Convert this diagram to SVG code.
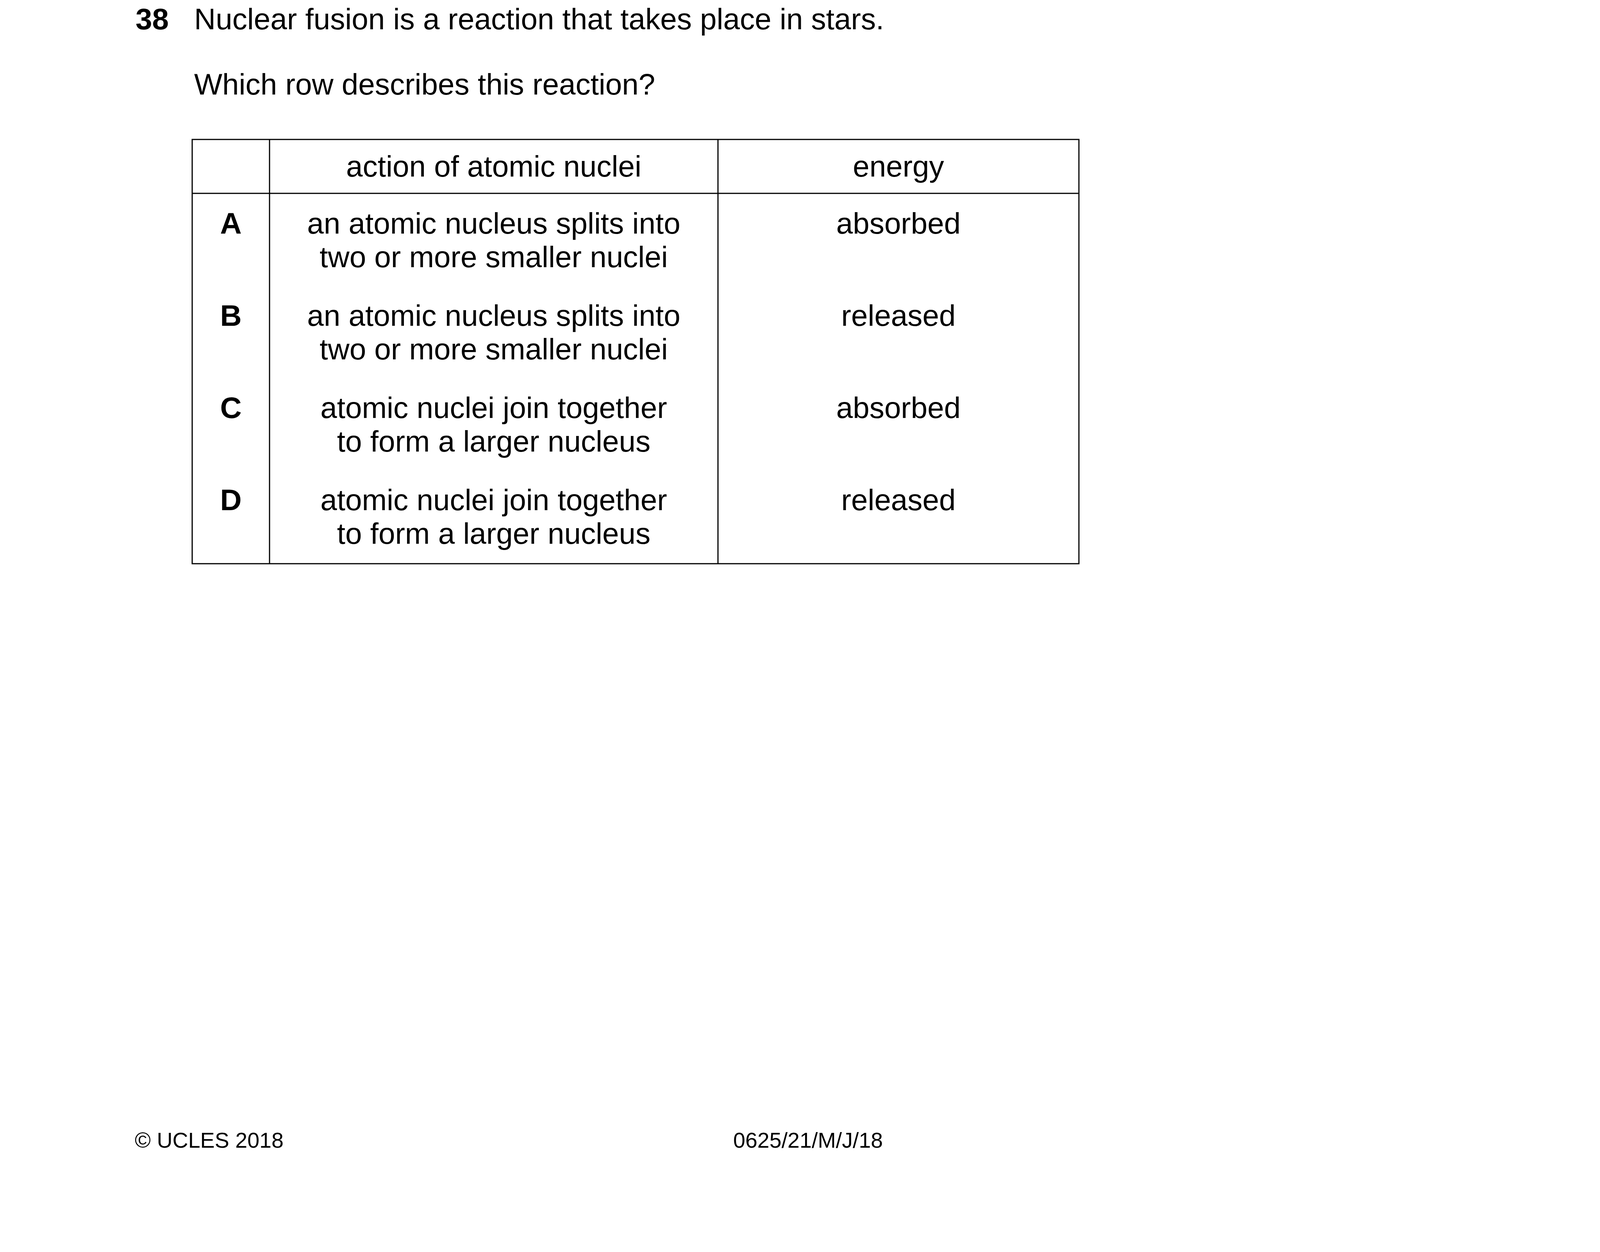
<svg xmlns="http://www.w3.org/2000/svg" width="4132" height="3205" viewBox="0 0 4132 3205">
<style>
text{font-family:"Liberation Sans",Arial,sans-serif;fill:#000}
.t{font-size:76.4px}
.b{font-weight:bold}
.c{text-anchor:middle}
.f{font-size:55.6px}
.ln{stroke:#000;stroke-width:3;fill:none}
</style>
<rect width="4132" height="3205" fill="#fff"/>
<g id="question">
<text class="t b" x="347" y="75">38</text>
<text class="t" x="497" y="75">Nuclear fusion is a reaction that takes place in stars.</text>
<text class="t" x="497" y="242">Which row describes this reaction?</text>
</g>
<g id="table-grid">
<rect class="ln" x="492" y="357" width="2270" height="1086"/>
<line class="ln" x1="492" y1="495" x2="2762" y2="495"/>
<line class="ln" x1="690" y1="357" x2="690" y2="1443"/>
<line class="ln" x1="1838" y1="357" x2="1838" y2="1443"/>
</g>
<g id="header">
<text class="t c" x="1264" y="452">action of atomic nuclei</text>
<text class="t c" x="2300" y="452">energy</text>
</g>
<g id="rowA">
<text class="t b c" x="591" y="598">A</text>
<text class="t c" x="1264" y="598">an atomic nucleus splits into</text>
<text class="t c" x="1264" y="684">two or more smaller nuclei</text>
<text class="t c" x="2300" y="598">absorbed</text>
</g>
<g id="rowB">
<text class="t b c" x="591" y="834">B</text>
<text class="t c" x="1264" y="834">an atomic nucleus splits into</text>
<text class="t c" x="1264" y="920">two or more smaller nuclei</text>
<text class="t c" x="2300" y="834">released</text>
</g>
<g id="rowC">
<text class="t b c" x="591" y="1070">C</text>
<text class="t c" x="1264" y="1070">atomic nuclei join together</text>
<text class="t c" x="1264" y="1156">to form a larger nucleus</text>
<text class="t c" x="2300" y="1070">absorbed</text>
</g>
<g id="rowD">
<text class="t b c" x="591" y="1306">D</text>
<text class="t c" x="1264" y="1306">atomic nuclei join together</text>
<text class="t c" x="1264" y="1392">to form a larger nucleus</text>
<text class="t c" x="2300" y="1306">released</text>
</g>
<g id="footer">
<text class="f" x="345" y="2938">© UCLES 2018</text>
<text class="f" x="1877" y="2938">0625/21/M/J/18</text>
</g>
<g id="connectors"></g>
</svg>
